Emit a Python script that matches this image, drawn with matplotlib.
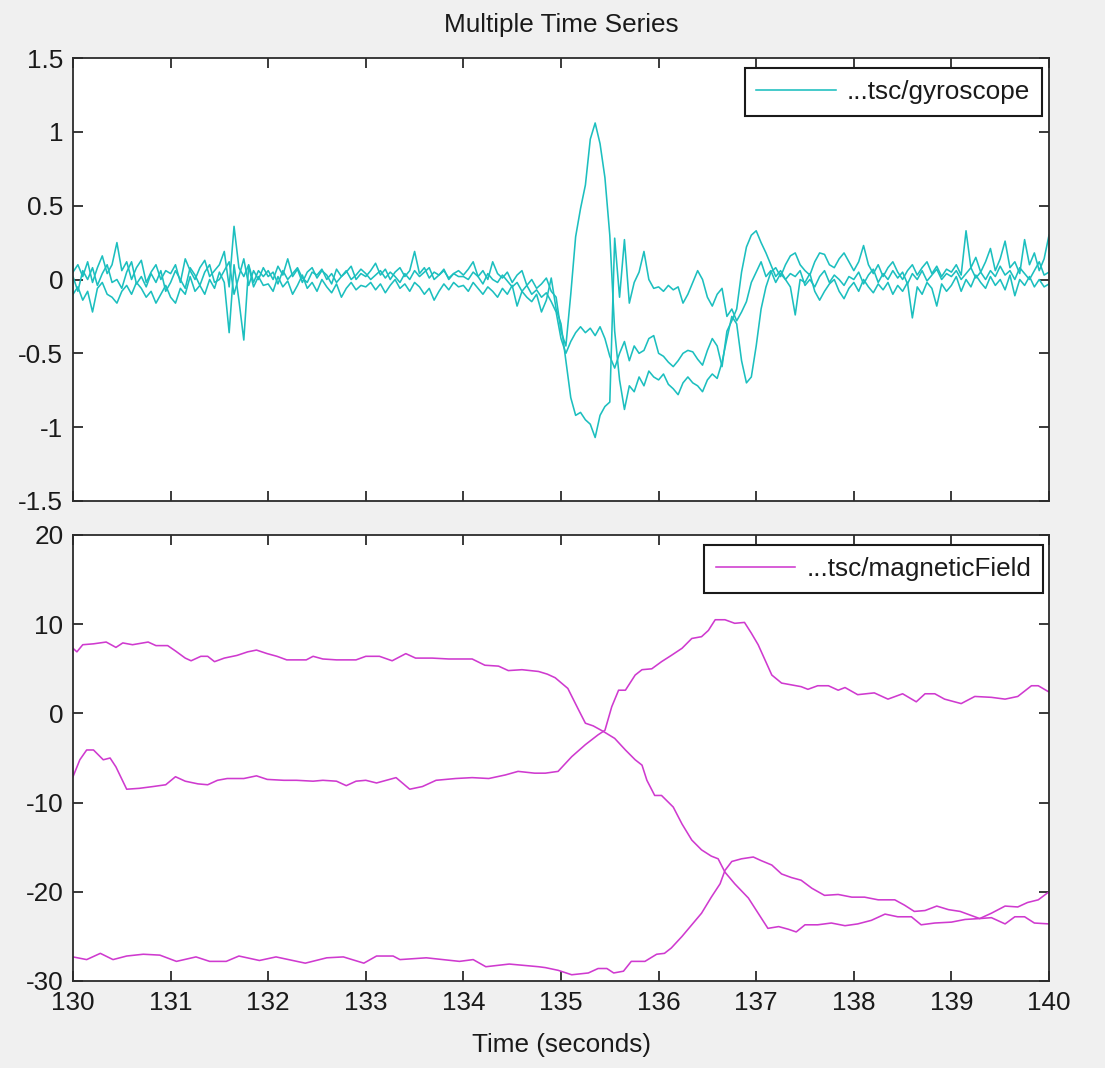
import numpy as np
import matplotlib
matplotlib.use("Agg")
import matplotlib.pyplot as plt

plt.rcParams['font.family'] = ['Liberation Sans', 'DejaVu Sans']
plt.rcParams['axes.unicode_minus'] = False

# ---------------- data ----------------
title = "Multiple Time Series"
xlabel = "Time (seconds)"
gyro_label = "...tsc/gyroscope"
mag_label = "...tsc/magneticField"

# gyroscope samples every 0.05 s from 130 to 140
gyro_t = np.linspace(130.0, 140.0, 201)
gyro1 = [
    0.05, 0.10, 0.02, 0.12, -0.02, 0.08, 0.16, 0.04, 0.10, 0.25, 0.06, 0.12, 0.0, 0.08, 0.13, -0.02, 0.05, 0.10, 0.0, 0.06,
    0.04, 0.10, -0.02, 0.14, 0.06, 0.0, 0.08, 0.13, 0.02, 0.06, 0.10, 0.19, -0.05, 0.36, 0.08, 0.02, 0.10, -0.02, 0.06, 0.02,
    0.06, 0.0, 0.09, 0.03, 0.14, 0.02, 0.07, -0.02, 0.05, 0.08, 0.01, 0.06, 0.03, -0.03, 0.07, 0.02, 0.05, 0.09, 0.0, 0.04,
    0.02, 0.06, 0.11, 0.03, 0.07, 0.0, 0.05, 0.08, 0.02, 0.06, 0.19, 0.04, 0.08, 0.01, 0.05, 0.03, 0.07, 0.0, 0.04, 0.06,
    0.03, 0.07, 0.12, 0.02, 0.06, 0.0, 0.12, 0.04, 0.01, 0.05, -0.02, 0.03, 0.06, -0.04, 0.0, -0.06, -0.03, 0.01, -0.08, -0.12,
    -0.35, -0.45, -0.10, 0.29, 0.48, 0.64, 0.95, 1.06, 0.92, 0.69, 0.30, -0.35, -0.68, -0.88, -0.72, -0.76, -0.66, -0.72, -0.62, -0.66,
    -0.68, -0.64, -0.71, -0.74, -0.78, -0.70, -0.66, -0.70, -0.72, -0.76, -0.68, -0.64, -0.67, -0.56, -0.40, -0.25, -0.30, -0.55, -0.70, -0.66,
    -0.45, -0.20, -0.05, 0.05, 0.08, 0.02, 0.10, 0.16, 0.18, 0.10, 0.06, 0.03, 0.12, 0.18, 0.17, 0.10, 0.08, 0.14, 0.18, 0.12,
    0.06, 0.12, 0.23, 0.10, 0.04, 0.10, 0.02, 0.08, 0.12, 0.05, 0.0, 0.06, 0.10, 0.03, 0.08, 0.12, 0.04, 0.09, 0.02, 0.07,
    0.05, 0.10, 0.03, 0.33, 0.08, 0.15, 0.05, 0.12, 0.21, 0.06, 0.14, 0.26, 0.08, 0.12, 0.04, 0.27, 0.10, 0.18, 0.06, 0.14, 0.30,
]
gyro2 = [
    -0.10, -0.05, -0.14, -0.08, -0.22, -0.06, -0.02, -0.10, -0.12, -0.16, -0.08, -0.04, -0.10, -0.02, -0.06, -0.12, -0.08, -0.16, -0.10, -0.04,
    -0.12, -0.16, -0.06, -0.10, 0.02, -0.08, -0.04, -0.10, 0.0, -0.06, 0.05, -0.02, -0.36, 0.10, -0.14, -0.41, 0.09, -0.05, 0.02, -0.04,
    -0.03, -0.08, 0.02, -0.05, -0.01, -0.10, -0.04, 0.03, -0.06, -0.02, -0.08, 0.0, -0.05, -0.09, -0.03, -0.12, -0.06, -0.02, -0.07, -0.04,
    -0.05, -0.02, -0.07, -0.03, -0.09, -0.04, 0.0, -0.06, -0.03, -0.08, -0.02, -0.05, -0.10, -0.06, -0.14, -0.08, -0.03, -0.07, -0.02, -0.05,
    -0.04, -0.08, -0.02, -0.06, -0.10, -0.05, -0.08, -0.12, -0.06, -0.10, -0.04, -0.18, -0.08, -0.12, -0.15, -0.10, -0.22, -0.14, 0.01, -0.20,
    -0.30, -0.55, -0.80, -0.92, -0.90, -0.95, -0.98, -1.07, -0.92, -0.86, -0.83, 0.28, -0.12, 0.27, -0.16, -0.02, 0.05, 0.19, 0.0, -0.06,
    -0.05, -0.08, -0.04, -0.07, -0.05, -0.16, -0.10, -0.02, 0.06, 0.0, -0.12, -0.18, -0.10, -0.06, -0.25, -0.20, -0.28, -0.22, -0.15, -0.02,
    0.05, 0.12, 0.02, 0.06, -0.02, 0.04, 0.0, -0.05, -0.24, 0.0, -0.02, 0.04, -0.08, -0.14, -0.08, -0.03, 0.0, -0.08, -0.13, -0.06,
    -0.02, -0.08, 0.0, -0.05, -0.09, -0.03, -0.07, -0.02, -0.10, -0.04, -0.08, -0.02, -0.26, -0.05, -0.10, -0.02, -0.06, -0.18, -0.03, -0.08,
    -0.04, 0.02, -0.08, 0.0, -0.05, 0.03, -0.02, -0.06, 0.02, -0.04, 0.0, -0.07, 0.03, -0.11, 0.0, -0.04, 0.02, -0.05, 0.0, -0.05, -0.03,
]
gyro3 = [
    0.02, -0.08, 0.06, 0.0, 0.08, -0.04, 0.04, 0.10, -0.02, 0.0, -0.06, 0.05, 0.12, -0.03, 0.02, -0.05, 0.04, -0.02, 0.06, -0.08,
    -0.02, 0.06, 0.0, -0.06, 0.08, 0.03, -0.04, 0.05, 0.10, -0.02, 0.0, 0.06, 0.12, -0.10, 0.02, 0.14, -0.04, 0.06, 0.0, 0.08,
    0.02, 0.05, -0.03, 0.06, 0.0, 0.04, 0.08, 0.01, -0.02, 0.05, 0.03, 0.07, 0.0, 0.04, -0.02, 0.02, 0.06, 0.0, 0.03, 0.07,
    0.04, 0.0, 0.03, 0.06, 0.01, 0.05, 0.02, -0.02, 0.04, 0.0, 0.06, 0.02, 0.05, 0.08, 0.0, 0.03, 0.06, 0.01, 0.04, 0.02,
    0.02, 0.0, 0.05, 0.02, -0.03, 0.04, 0.0, -0.02, 0.03, -0.01, -0.05, -0.02, -0.08, -0.04, -0.10, -0.07, -0.12, -0.09, -0.15, -0.22,
    -0.40, -0.50, -0.42, -0.36, -0.32, -0.36, -0.33, -0.38, -0.32, -0.40, -0.52, -0.60, -0.50, -0.42, -0.55, -0.45, -0.50, -0.48, -0.40, -0.38,
    -0.50, -0.52, -0.56, -0.59, -0.55, -0.50, -0.48, -0.49, -0.54, -0.58, -0.48, -0.40, -0.45, -0.59, -0.35, -0.28, -0.20, 0.05, 0.22, 0.30,
    0.33, 0.25, 0.18, 0.10, 0.02, 0.06, 0.0, 0.04, 0.02, 0.06, -0.04, 0.0, -0.05, 0.02, 0.06, -0.02, 0.03, 0.0, -0.04, 0.02,
    0.0, 0.05, -0.03, 0.03, 0.07, -0.02, 0.04, 0.0, 0.06, 0.01, 0.05, -0.03, 0.04, 0.0, 0.06, -0.01, 0.03, 0.07, 0.0, 0.04,
    0.02, 0.06, 0.0, 0.04, 0.08, 0.01, 0.05, 0.0, 0.06, 0.02, 0.09, 0.03, 0.06, 0.0, 0.08, 0.04, 0.0, 0.06, 0.12, 0.03, 0.05,
]

# magnetic field: three components, each with its own sample times
mag1_t = [130.0, 130.04, 130.1, 130.21, 130.34, 130.44, 130.51, 130.61, 130.77, 130.85, 130.97, 131.05, 131.15, 131.21,
          131.31, 131.38, 131.45, 131.55, 131.68, 131.79, 131.88, 131.99, 132.09, 132.19, 132.39, 132.46, 132.56, 132.7,
          132.9, 133.0, 133.14, 133.27, 133.41, 133.51, 133.68, 133.85, 134.09, 134.22, 134.36, 134.46, 134.6, 134.77,
          134.86, 134.94, 135.07, 135.18, 135.25, 135.33, 135.43, 135.55, 135.66, 135.76, 135.83, 135.88, 135.96, 136.03,
          136.15, 136.24, 136.34, 136.44, 136.54, 136.61, 136.68, 136.78, 136.92, 137.02, 137.12, 137.23, 137.33, 137.41,
          137.5, 137.63, 137.77, 137.91, 138.04, 138.18, 138.32, 138.45, 138.59, 138.69, 138.83, 139.0, 139.14, 139.29,
          139.41, 139.55, 139.68, 139.78, 139.89, 140.0]
mag1 = [7.3, 6.9, 7.7, 7.8, 8.0, 7.4, 7.9, 7.7, 8.0, 7.6, 7.6, 7.0, 6.2, 5.9,
        6.4, 6.4, 5.8, 6.2, 6.5, 6.9, 7.1, 6.7, 6.4, 6.0, 6.0, 6.4, 6.1, 6.0,
        6.0, 6.4, 6.4, 5.9, 6.7, 6.2, 6.2, 6.1, 6.1, 5.4, 5.3, 4.8, 4.9, 4.7,
        4.4, 4.0, 2.8, 0.4, -1.1, -1.4, -2.0, -2.8, -4.1, -5.2, -5.8, -7.5, -9.2, -9.2,
        -10.5, -12.4, -14.2, -15.3, -16.0, -16.3, -17.8, -19.1, -20.7, -22.4, -24.1, -23.9, -24.2, -24.5,
        -23.7, -23.7, -23.5, -23.8, -23.6, -23.2, -22.5, -22.8, -22.8, -23.7, -23.5, -23.4, -23.1, -23.0,
        -22.4, -21.6, -21.7, -21.2, -20.9, -20.0]

mag2_t = [130.0, 130.07, 130.14, 130.21, 130.31, 130.38, 130.44, 130.55, 130.68, 130.82, 130.95, 131.05, 131.15, 131.28,
          131.38, 131.48, 131.58, 131.75, 131.88, 131.99, 132.16, 132.29, 132.46, 132.56, 132.7, 132.8, 132.9, 133.0,
          133.11, 133.21, 133.31, 133.45, 133.58, 133.72, 133.92, 134.09, 134.26, 134.43, 134.56, 134.73, 134.84, 134.97,
          135.11, 135.25, 135.38, 135.45, 135.52, 135.59, 135.66, 135.76, 135.83, 135.93, 136.03, 136.13, 136.24, 136.34,
          136.44, 136.51, 136.58, 136.68, 136.78, 136.88, 136.95, 137.02, 137.09, 137.16, 137.26, 137.36, 137.46, 137.53,
          137.63, 137.74, 137.84, 137.91, 138.04, 138.21, 138.35, 138.5, 138.64, 138.73, 138.83, 138.93, 139.1, 139.24,
          139.41, 139.55, 139.68, 139.82, 139.89, 140.0]
mag2 = [-7.1, -5.2, -4.1, -4.1, -5.2, -5.0, -6.0, -8.5, -8.4, -8.2, -8.0, -7.1, -7.6, -7.9,
        -8.0, -7.5, -7.3, -7.3, -7.0, -7.4, -7.5, -7.5, -7.6, -7.5, -7.6, -8.1, -7.6, -7.5,
        -7.8, -7.5, -7.2, -8.5, -8.2, -7.5, -7.3, -7.2, -7.3, -6.9, -6.5, -6.7, -6.7, -6.5,
        -4.85, -3.5, -2.4, -1.9, 0.75, 2.6, 2.6, 4.3, 4.9, 5.0, 5.8, 6.5, 7.3, 8.4,
        8.6, 9.3, 10.5, 10.5, 10.1, 10.2, 9.0, 7.7, 6.0, 4.3, 3.4, 3.2, 3.0, 2.7,
        3.1, 3.1, 2.6, 2.9, 2.1, 2.3, 1.6, 2.2, 1.3, 2.2, 2.2, 1.6, 1.1, 1.9,
        1.8, 1.6, 1.9, 3.1, 3.1, 2.4]

mag3_t = [130.0, 130.14, 130.28, 130.41, 130.55, 130.72, 130.89, 131.06, 131.26, 131.4, 131.57, 131.7, 131.91, 132.08,
          132.38, 132.6, 132.77, 132.98, 133.11, 133.28, 133.35, 133.62, 133.96, 134.1, 134.23, 134.47, 134.77, 134.84,
          134.97, 135.11, 135.28, 135.38, 135.47, 135.54, 135.64, 135.72, 135.86, 135.98, 136.06, 136.13, 136.24, 136.34,
          136.44, 136.54, 136.63, 136.68, 136.75, 136.85, 136.97, 137.05, 137.16, 137.26, 137.36, 137.46, 137.57, 137.7,
          137.84, 137.98, 138.11, 138.25, 138.42, 138.52, 138.62, 138.73, 138.85, 138.97, 139.09, 139.19, 139.29, 139.41,
          139.55, 139.65, 139.75, 139.85, 140.0]
mag3 = [-27.3, -27.6, -26.9, -27.6, -27.2, -27.0, -27.1, -27.8, -27.3, -27.8, -27.8, -27.2, -27.7, -27.3,
        -28.0, -27.4, -27.3, -28.0, -27.2, -27.2, -27.6, -27.4, -27.8, -27.6, -28.4, -28.1, -28.4, -28.5,
        -28.8, -29.3, -29.1, -28.6, -28.6, -29.1, -28.9, -27.8, -27.8, -27.0, -26.9, -26.3, -25.0, -23.7,
        -22.4, -20.6, -19.1, -17.6, -16.6, -16.3, -16.1, -16.5, -17.0, -18.0, -18.4, -18.7, -19.6, -20.4,
        -20.3, -20.6, -20.6, -20.9, -20.9, -21.5, -22.2, -22.1, -21.6, -22.0, -22.2, -22.6, -23.0, -22.9,
        -23.6, -22.8, -22.8, -23.5, -23.6]

x_ticks = [130, 131, 132, 133, 134, 135, 136, 137, 138, 139, 140]
gyro_yticks = [-1.5, -1, -0.5, 0, 0.5, 1, 1.5]
gyro_yticklabels = ["-1.5", "-1", "-0.5", "0", "0.5", "1", "1.5"]
mag_yticks = [-30, -20, -10, 0, 10, 20]

# ---------------- style ----------------
W, H = 1105, 1068
bg = '#f0f0f0'
cyan = '#1cbfbf'
magenta = '#cf3acf'
txt = '#1a1a1a'
spine = '#2b2b2b'
fs = 18.8

fig = plt.figure(figsize=(W / 100, H / 100), dpi=100, facecolor=bg)

def px_axes(l, t, r, b):
    return fig.add_axes([l / W, 1 - b / H, (r - l) / W, (b - t) / H])

ax1 = px_axes(73, 58, 1049, 501)
ax2 = px_axes(73, 535, 1049, 981)

for ax in (ax1, ax2):
    ax.set_facecolor('white')
    for s in ax.spines.values():
        s.set_color(spine)
        s.set_linewidth(1.3)
    ax.tick_params(direction='in', top=True, right=True, length=7, width=1.3,
                   color=spine, labelsize=fs, labelcolor=txt, pad=7)
    ax.set_xlim(130, 140)
    ax.set_xticks(x_ticks)

lw = 1.15
ax1.plot(gyro_t, gyro1, color=cyan, lw=lw, label=gyro_label)
ax1.plot(gyro_t, gyro2, color=cyan, lw=lw)
ax1.plot(gyro_t, gyro3, color=cyan, lw=lw)
ax1.set_ylim(-1.5, 1.5)
ax1.set_yticks(gyro_yticks)
ax1.set_yticklabels(gyro_yticklabels)
ax1.set_xticklabels([])

ax2.plot(mag1_t, mag1, color=magenta, lw=lw, label=mag_label)
ax2.plot(mag2_t, mag2, color=magenta, lw=lw)
ax2.plot(mag3_t, mag3, color=magenta, lw=lw)
ax2.set_ylim(-30, 20)
ax2.set_yticks(mag_yticks)
ax2.set_xticklabels([str(v) for v in x_ticks])

for ax, anchor in ((ax1, (1042, 68)), (ax2, (1043, 545))):
    bb = (anchor[0] / W, 1 - anchor[1] / H)
    leg = ax.legend(loc='upper right', bbox_to_anchor=bb, bbox_transform=fig.transFigure,
                    fontsize=fs, frameon=True, fancybox=False, framealpha=1,
                    edgecolor='#1a1a1a', handlelength=3.05, handletextpad=0.42,
                    borderpad=0.45, borderaxespad=0)
    leg.get_frame().set_linewidth(1.5)
    for t in leg.get_texts():
        t.set_color(txt)

fig.text(561 / W, 1 - 25 / H, title, ha='center', va='center', fontsize=fs, color=txt)
fig.text(561 / W, 1 - 1045 / H, xlabel, ha='center', va='center', fontsize=fs, color=txt)

fig.savefig('out.png', dpi=100, facecolor=bg)
